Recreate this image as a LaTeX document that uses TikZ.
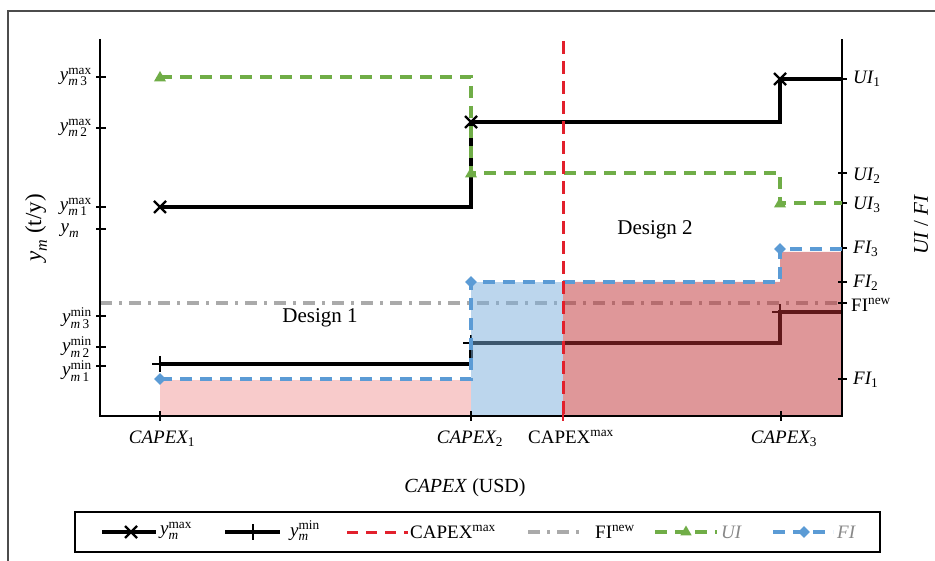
\documentclass[tikz,border=0pt]{standalone}
\usepackage{amsmath}
\usepackage{fontspec}
\setmainfont{Liberation Serif}
\usetikzlibrary{shapes.geometric}
\definecolor{cgreen}{RGB}{112,173,71}
\definecolor{cblue}{RGB}{91,155,213}
\definecolor{cred}{RGB}{226,32,44}
\definecolor{cgrey}{RGB}{170,170,170}
\definecolor{fpink}{RGB}{248,203,203}
\definecolor{fblue}{RGB}{123,175,221}
\definecolor{fred}{RGB}{193,49,53}
\newcommand{\yl}[2]{$\textit{y}^{\textup{#1}}_{\textit{m}\,\textup{#2}}$}
\newcommand{\xmk}[1]{\draw[line width=2.4pt,black] (#1) ++(-6,-6) -- ++(12,12) ++(0,-12) -- ++(-12,12);}
\newcommand{\pmk}[1]{\draw[line width=2.4pt,black] (#1) ++(-8,0) -- ++(16,0) (#1) ++(0,-8) -- ++(0,16);}
\begin{document}
\begin{tikzpicture}[x=1pt,y=-1pt,
  txt/.style={font=\fontsize{19}{22}\selectfont, inner sep=1pt},
  blk/.style={line width=3.3pt, black},
  grn/.style={line width=3.2pt, cgreen, dash pattern=on 12pt off 8pt},
  blu/.style={line width=3.2pt, cblue, dash pattern=on 12pt off 8pt},
  rdd/.style={line width=3pt, cred, dash pattern=on 13pt off 7pt},
  gry/.style={line width=3.2pt, cgrey, dash pattern=on 12pt off 7pt on 3pt off 7pt},
  axis/.style={line width=2pt, black},
  tri/.style={regular polygon, regular polygon sides=3, fill=cgreen, inner sep=0pt, minimum size=14pt},
  dia/.style={diamond, fill=cblue, inner sep=0pt, minimum width=12pt, minimum height=12pt}]
\useasboundingbox (0,0) rectangle (935,561);
\fill[white] (0,0) rectangle (935,561);
\draw[line width=1.6pt, black!70] (8,561) -- (8,11) -- (935,11);

% pink fill
\fill[fpink] (160,380) rectangle (471,416);
% lines below transparent fills
\draw[gry] (100,303) -- (842,303);
\draw[blk] (160,364) -- (471,364) -- (471,343) -- (780,343) -- (780,312) -- (842,312);
\pmk{160,364}\pmk{471,343}\pmk{780,312}
% transparent fills
\fill[fblue, fill opacity=0.5] (471,282) rectangle (563,416);
\fill[fred, fill opacity=0.5] (563,282) -- (780,282) -- (780,252) -- (842,252) -- (842,416) -- (563,416) -- cycle;

% axes
\draw[axis] (100,39) -- (100,416) -- (842,416) -- (842,39);
\foreach \yy in {77,128,207,229,316,347,366} \draw[axis] (96,\yy) -- (106,\yy);
\foreach \yy in {79,173,203,248,282,303,379} \draw[axis] (838,\yy) -- (847,\yy);
\foreach \xx in {160,471,781} \draw[line width=1.6pt] (\xx,411) -- (\xx,421);
\draw[line width=1.6pt, cred] (563,411) -- (563,421);

% y max
\draw[blk] (160,207) -- (471,207) -- (471,122) -- (780,122) -- (780,79) -- (842,79);
\xmk{160,207}\xmk{471,122}\xmk{780,79}
% UI
\draw[grn] (160,77) -- (471,77) -- (471,173) -- (780,173) -- (780,203) -- (842,203);
\node[tri] (t1) at (160,78) {};
\node[tri] (t2) at (471,174) {};
\node[tri] (t3) at (780,204) {};
% FI
\draw[blu] (160,379) -- (471,379) -- (471,282) -- (780,282) -- (780,249) -- (842,249);
\node[dia] (d1) at (160,379) {};
\node[dia] (d2) at (471,282) {};
\node[dia] (d3) at (780,249) {};
% CAPEX max
\draw[rdd] (563,41) -- (563,416);

% left labels
\node[txt, anchor=east] (l1) at (93,77) {\yl{max}{3}};
\node[txt, anchor=east] (l2) at (93,128) {\yl{max}{2}};
\node[txt, anchor=east] (l3) at (93,207) {\yl{max}{1}};
\node[txt, anchor=east] (l4) at (93,231) {$\textit{y}_{\textit{m}}$\hphantom{\,\textup{1}}};
\node[txt, anchor=east] (l5) at (93,318) {\yl{min}{3}};
\node[txt, anchor=east] (l6) at (93,347) {\yl{min}{2}};
\node[txt, anchor=east] (l7) at (93,371) {\yl{min}{1}};
\node[txt, rotate=90, font=\fontsize{23}{26}\selectfont] (ya) at (36,228) {$\textit{y}_{\textit{m}}$ (t/y)};

% right labels
\node[txt, anchor=west] (r1) at (852,79) {$\textit{UI}_{\textup{1}}$};
\node[txt, anchor=west] (r2) at (852,176) {$\textit{UI}_{\textup{2}}$};
\node[txt, anchor=west] (r3) at (852,205) {$\textit{UI}_{\textup{3}}$};
\node[txt, anchor=west] (r4) at (852,249) {$\textit{FI}_{\textup{3}}$};
\node[txt, anchor=west] (r5) at (852,283) {$\textit{FI}_{\textup{2}}$};
\node[txt, anchor=west] (r6) at (850,305) {FI$^{\textup{new}}$};
\node[txt, anchor=west] (r7) at (852,380) {$\textit{FI}_{\textup{1}}$};
\node[txt, rotate=90, font=\fontsize{21}{24}\selectfont] (ra) at (921,225) {\textit{UI} / \textit{FI}};

% region labels
\node[txt, font=\fontsize{21}{24}\selectfont] (de1) at (320,318) {Design 1};
\node[txt, font=\fontsize{21}{24}\selectfont] (de2) at (655,230) {Design 2};

% bottom labels
\node[txt] (b1) at (162,439) {$\textit{CAPEX}_{\textup{1}}$};
\node[txt] (b2) at (470,439) {$\textit{CAPEX}_{\textup{2}}$};
\node[txt] (b3) at (571,437) {CAPEX$^{\textup{max}}$};
\node[txt] (b4) at (784,439) {$\textit{CAPEX}_{\textup{3}}$};
\node[txt, font=\fontsize{20}{23}\selectfont] (xa) at (465,488) {\textit{CAPEX} (USD)};

% legend
\draw[line width=1.8pt] (75,512) rectangle (880,552);
\draw[blk] (102,532) -- (156,532); \xmk{131,532}
\node[txt, anchor=west] (g1) at (159,531) {$\textit{y}^{\textup{max}}_{\textit{m}}$};
\draw[blk] (225,532) -- (280,532); \pmk{253,532}
\node[txt, anchor=west] (g2) at (289,531) {$\textit{y}^{\textup{min}}_{\textit{m}}$};
\draw[rdd, dash pattern=on 11pt off 8pt] (347,532) -- (408,532);
\node[txt, anchor=west] (g3) at (409,532) {CAPEX$^{\textup{max}}$};
\draw[gry] (528,532) -- (586,532);
\node[txt, anchor=west] (g4) at (594,532) {FI$^{\textup{new}}$};
\draw[grn] (655,532) -- (717,532);
\node[tri, minimum size=13pt] (g5m) at (686,532) {};
\node[txt, anchor=west, text=cgrey!80!black] (g5) at (720,532) {\textit{UI}};
\draw[blu] (773,532) -- (833,532);
\node[dia] (g6m) at (804,532) {};
\node[txt, anchor=west, text=cgrey!80!black] (g6) at (836,532) {\textit{FI}};
\end{tikzpicture}
\end{document}
